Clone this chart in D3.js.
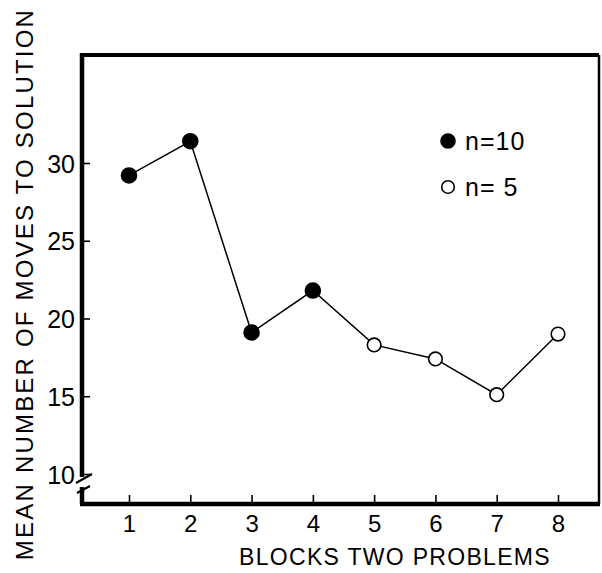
<!DOCTYPE html>
<html><head><meta charset="utf-8">
<script src="https://cdn.jsdelivr.net/npm/d3@7"></script>
<style>
html,body{margin:0;padding:0;background:#fff;}
text{font-family:"Liberation Sans",Arial,sans-serif;fill:#000;}
</style></head>
<body>
<svg id="c" width="602" height="573"></svg>
<script>
const blocks = [1,2,3,4,5,6,7,8];
const meanMoves = [29.2,31.4,19.1,21.8,18.3,17.4,15.1,19.0];
const groupN = [10,10,10,10,5,5,5,5];
const yTicks = [10,15,20,25,30];
const xTickLabels = ["1","2","3","4","5","6","7","8"];
const legendItems = [{label:"n=10", n:10},{label:"n= 5", n:5}];

const svg = d3.select("#c");
const L=82, T=55, R=599, B=504;
const x = d3.scaleLinear().domain([1,8]).range([129,558]);
const y = d3.scaleLinear().domain([10,30]).range([474,163]);

// frame: top and right
svg.append("line").attr("x1",L).attr("x2",R).attr("y1",T).attr("y2",T).attr("stroke","#000").attr("stroke-width",4);
svg.append("line").attr("x1",R).attr("x2",R).attr("y1",T).attr("y2",B).attr("stroke","#000").attr("stroke-width",2.5);
// bottom axis line
svg.append("line").attr("x1",L-2).attr("x2",R+1).attr("y1",B).attr("y2",B).attr("stroke","#000").attr("stroke-width",4.5);
// left axis with break
svg.append("line").attr("x1",L).attr("x2",L).attr("y1",T-2).attr("y2",477).attr("stroke","#000").attr("stroke-width",4.5);
svg.append("line").attr("x1",L).attr("x2",L).attr("y1",487).attr("y2",B).attr("stroke","#000").attr("stroke-width",4.5);
svg.append("path").attr("d","M76,483 L92,474").attr("stroke","#000").attr("stroke-width",2.2).attr("fill","none");
svg.append("path").attr("d","M77,493 L90,486").attr("stroke","#000").attr("stroke-width",2.2).attr("fill","none");

// y axis ticks
const ya = svg.append("g").attr("transform",`translate(${L},0)`)
  .call(d3.axisLeft(y).tickValues(yTicks).tickSize(-8).tickPadding(7).tickFormat(d3.format("d")));
ya.select(".domain").remove();
ya.selectAll(".tick line").attr("stroke","#000").attr("stroke-width",1.6).attr("x1",1);
ya.selectAll(".tick text").attr("font-size",25).attr("dy","0.36em").style("font-family","Liberation Sans, Arial, sans-serif");

// x axis ticks
const xa = svg.append("g").attr("transform",`translate(0,${B})`)
  .call(d3.axisBottom(x).tickValues(blocks).tickSize(-9).tickPadding(11).tickFormat((d,i)=>xTickLabels[i]));
xa.select(".domain").remove();
xa.selectAll(".tick line").attr("stroke","#000").attr("stroke-width",1.6);
xa.selectAll(".tick text").attr("font-size",24).style("font-family","Liberation Sans, Arial, sans-serif");

// line
const pts = blocks.map((b,i)=>({b, v:meanMoves[i], n:groupN[i]}));
svg.append("path").datum(pts)
  .attr("d", d3.line().x(d=>x(d.b)).y(d=>y(d.v)))
  .attr("fill","none").attr("stroke","#000").attr("stroke-width",1.5);

svg.selectAll("circle.pt").data(pts).enter().append("circle")
  .attr("class","pt")
  .attr("cx",d=>x(d.b)).attr("cy",d=>y(d.v))
  .attr("r",d=>d.n===10?7.5:6.8)
  .attr("fill",d=>d.n===10?"#000":"#fff")
  .attr("stroke","#000").attr("stroke-width",1.6);

// legend
const lg = svg.append("g");
legendItems.forEach((it,i)=>{
  const cy = 141 + i*46;
  lg.append("circle").attr("cx",448).attr("cy",cy).attr("r",it.n===10?7:6.3)
    .attr("fill",it.n===10?"#000":"#fff").attr("stroke","#000").attr("stroke-width",1.6);
  lg.append("text").attr("x",465).attr("y",cy+9).attr("font-size",25).attr("letter-spacing","1px").text(it.label);
});

// axis titles
svg.append("text").attr("x",395).attr("y",565).attr("text-anchor","middle")
  .attr("font-size",23).attr("letter-spacing","1.3px").text("BLOCKS TWO PROBLEMS");
svg.append("text").attr("transform","translate(33,284) rotate(-90)").attr("text-anchor","middle")
  .attr("font-size",24).attr("letter-spacing","2.2px").text("MEAN NUMBER OF MOVES TO SOLUTION");
</script>
</body></html>
